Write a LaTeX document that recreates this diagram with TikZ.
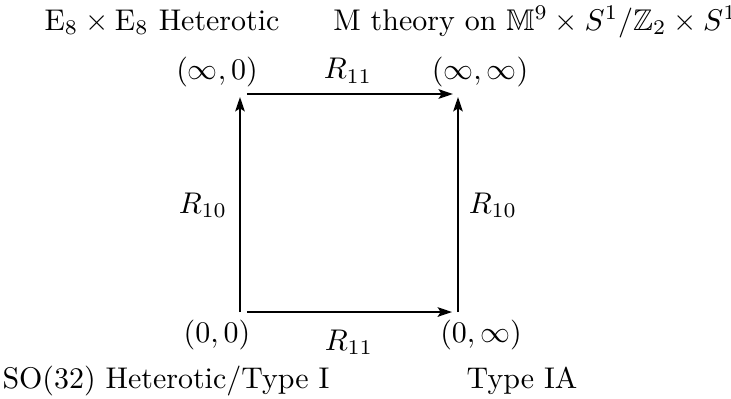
\documentclass[tikz,border=0pt]{standalone}
\usepackage{amsmath}
\usepackage{amssymb}
\usepackage{tikz}
\usetikzlibrary{arrows.meta}

\begin{document}
\begin{tikzpicture}[>={Stealth[length=4.8pt, width=3.2pt, inset=1pt]}, x=0.334pt, y=-0.334pt]
  \useasboundingbox (0,0) rectangle (731,398);
  % corners of the square
  \coordinate (bl) at (240,312);
  \coordinate (br) at (458,312);
  \coordinate (tl) at (240,94);
  \coordinate (tr) at (458,94);
  % corner labels
  \node[inner sep=0pt, align=center, text=black] (l00) at (217,335) {$(0,0)$};
  \node[inner sep=0pt, align=center, text=black] (l0i) at (481,335) {$(0,\infty)$};
  \node[inner sep=0pt, align=center, text=black] (li0) at (217,72) {$(\infty,0)$};
  \node[inner sep=0pt, align=center, text=black] (lii) at (480,72) {$(\infty,\infty)$};
  % theory names
  \node[inner sep=0pt, anchor=base, text=black] (het8) at (162,30) {$\mathrm{E}_8\times\mathrm{E}_8$ Heterotic};
  \node[inner sep=0pt, anchor=base, text=black] (mth) at (535,30) {M theory on $\mathbb{M}^9\times S^1/\mathbb{Z}_2\times S^1$};
  \node[inner sep=0pt, anchor=base, text=black] (het32) at (166,388) {SO(32) Heterotic/Type I};
  \node[inner sep=0pt, anchor=base, text=black] (typeIA) at (522,388) {Type IA};
  % radii
  \node[inner sep=0pt, align=center, text=black] (r11t) at (348,71) {$R_{11}$};
  \node[inner sep=0pt, align=center, text=black] (r11b) at (349,342) {$R_{11}$};
  \node[inner sep=0pt, align=center, text=black] (r10l) at (203,205) {$R_{10}$};
  \node[inner sep=0pt, align=center, text=black] (r10r) at (493,205) {$R_{10}$};
  \draw[->, semithick, shorten >=1pt] (bl) -- (tl);
  \draw[->, semithick, shorten <=2.3pt, shorten >=2pt] (bl) -- (br);
  \draw[->, semithick, shorten >=1pt] (br) -- (tr);
  \draw[->, semithick, shorten <=2.3pt, shorten >=1.7pt] (tl) -- (tr);
\end{tikzpicture}
\end{document}
